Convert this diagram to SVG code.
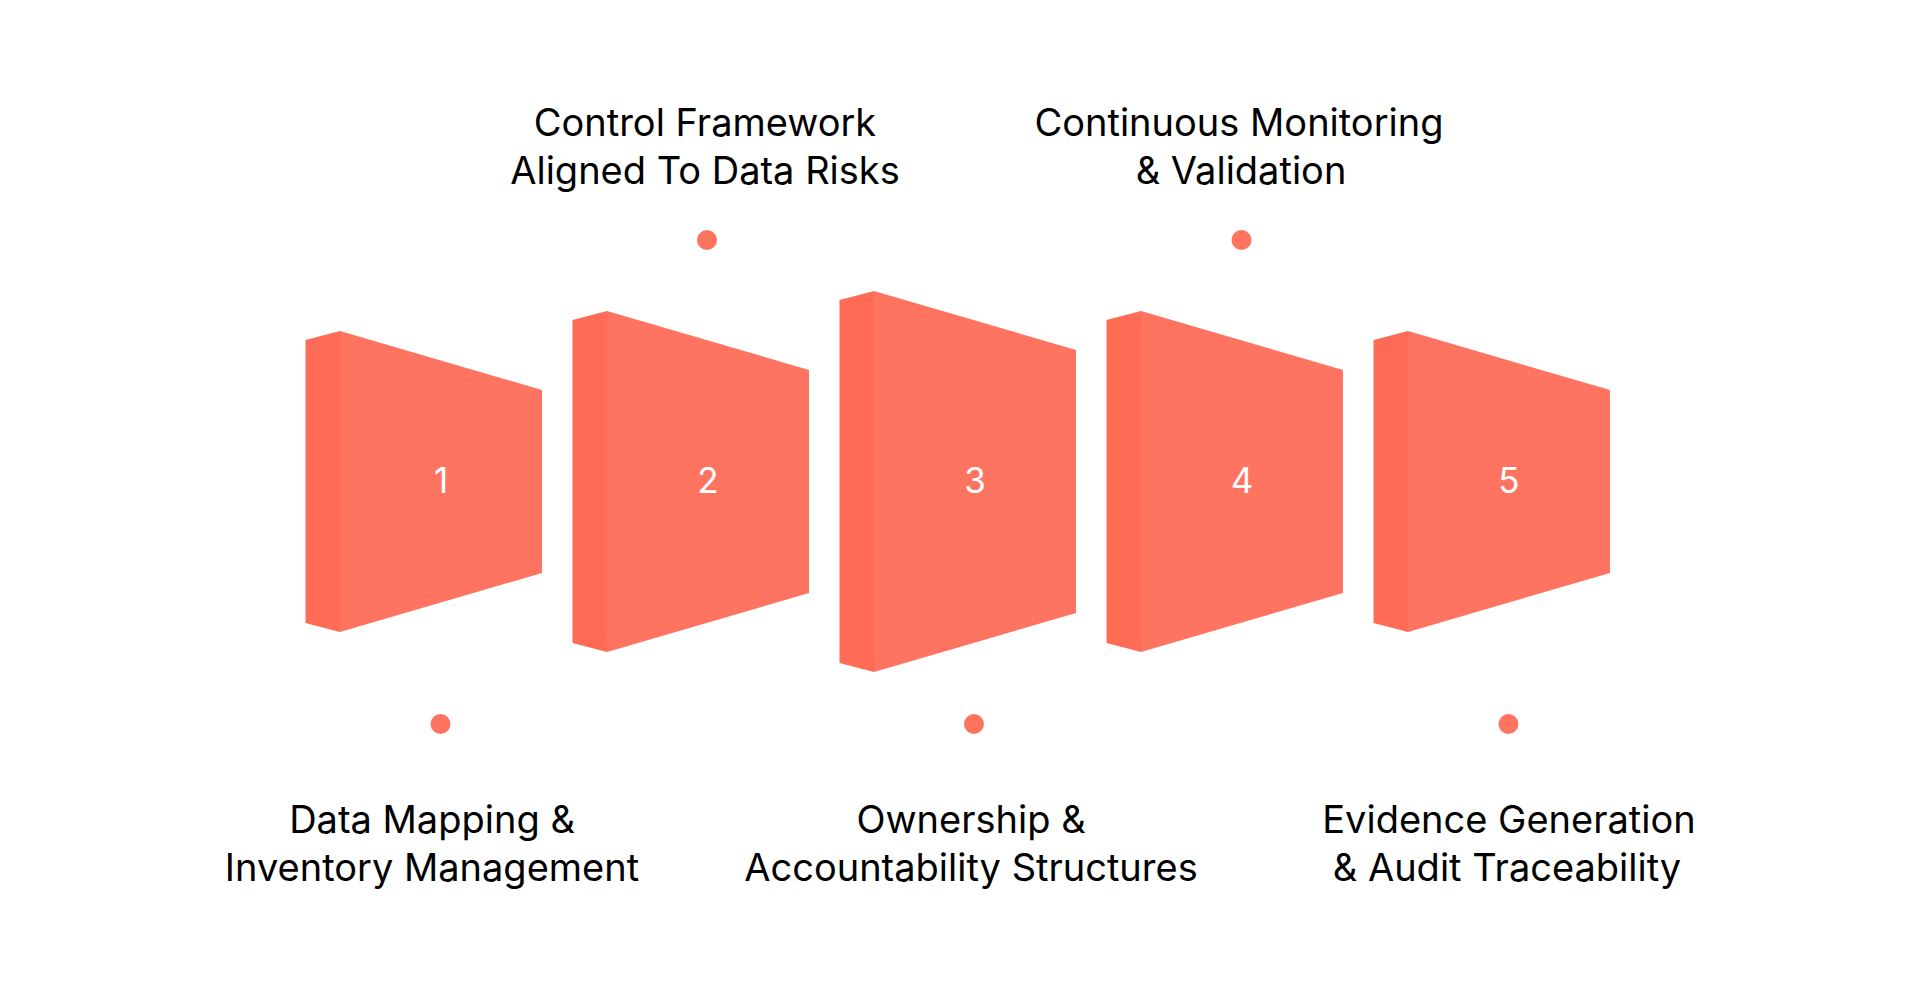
<svg xmlns="http://www.w3.org/2000/svg" width="1920" height="988" viewBox="0 0 1920 988">
  <style>
    .side { fill: #FF6B55; }
    .face { fill: #FF7461; }
    .dot { fill: #FF7461; }
    .num { font-family: Inter, "Noto Sans", "Liberation Sans", sans-serif; font-size: 35px; fill: #FFFFFF; text-anchor: middle; }
    .lbl { font-family: Inter, "Noto Sans", "Liberation Sans", sans-serif; font-size: 38px; fill: #000000; text-anchor: middle; }
  </style>
  <rect x="0" y="0" width="1920" height="988" fill="#FFFFFF"/>

  <g id="step1">
    <polygon class="side" points="305.5,340 340,331 340,632 305.5,623"/>
    <polygon class="face" points="340,331 542,390 542,573 340,632"/>
    <text class="num" x="441" y="493">1</text>
    <circle class="dot" cx="440.5" cy="724" r="10"/>
    <text class="lbl" x="432" y="833">Data Mapping &amp;</text>
    <text class="lbl" x="432" y="881">Inventory Management</text>
  </g>

  <g id="step2">
    <polygon class="side" points="572.5,320 607,311 607,652 572.5,643"/>
    <polygon class="face" points="607,311 809,370 809,593 607,652"/>
    <text class="num" x="708" y="493">2</text>
    <circle class="dot" cx="707" cy="240" r="10"/>
    <text class="lbl" x="705" y="136">Control Framework</text>
    <text class="lbl" x="705" y="183.5">Aligned To Data Risks</text>
  </g>

  <g id="step3">
    <polygon class="side" points="839.5,300 874,291 874,672 839.5,663"/>
    <polygon class="face" points="874,291 1076,350 1076,613 874,672"/>
    <text class="num" x="975" y="493">3</text>
    <circle class="dot" cx="974" cy="724" r="10"/>
    <text class="lbl" x="971" y="833">Ownership &amp;</text>
    <text class="lbl" x="971" y="881">Accountability Structures</text>
  </g>

  <g id="step4">
    <polygon class="side" points="1106.5,320 1141,311 1141,652 1106.5,643"/>
    <polygon class="face" points="1141,311 1343,370 1343,593 1141,652"/>
    <text class="num" x="1242" y="493">4</text>
    <circle class="dot" cx="1241.5" cy="240" r="10"/>
    <text class="lbl" x="1239" y="136">Continuous Monitoring</text>
    <text class="lbl" x="1241" y="183.5">&amp; Validation</text>
  </g>

  <g id="step5">
    <polygon class="side" points="1373.5,340 1408,331 1408,632 1373.5,623"/>
    <polygon class="face" points="1408,331 1610,390 1610,573 1408,632"/>
    <text class="num" x="1509" y="493">5</text>
    <circle class="dot" cx="1508.5" cy="724" r="10"/>
    <text class="lbl" x="1509" y="833">Evidence Generation</text>
    <text class="lbl" x="1507" y="881">&amp; Audit Traceability</text>
  </g>

  <g id="connectors"/>
</svg>
